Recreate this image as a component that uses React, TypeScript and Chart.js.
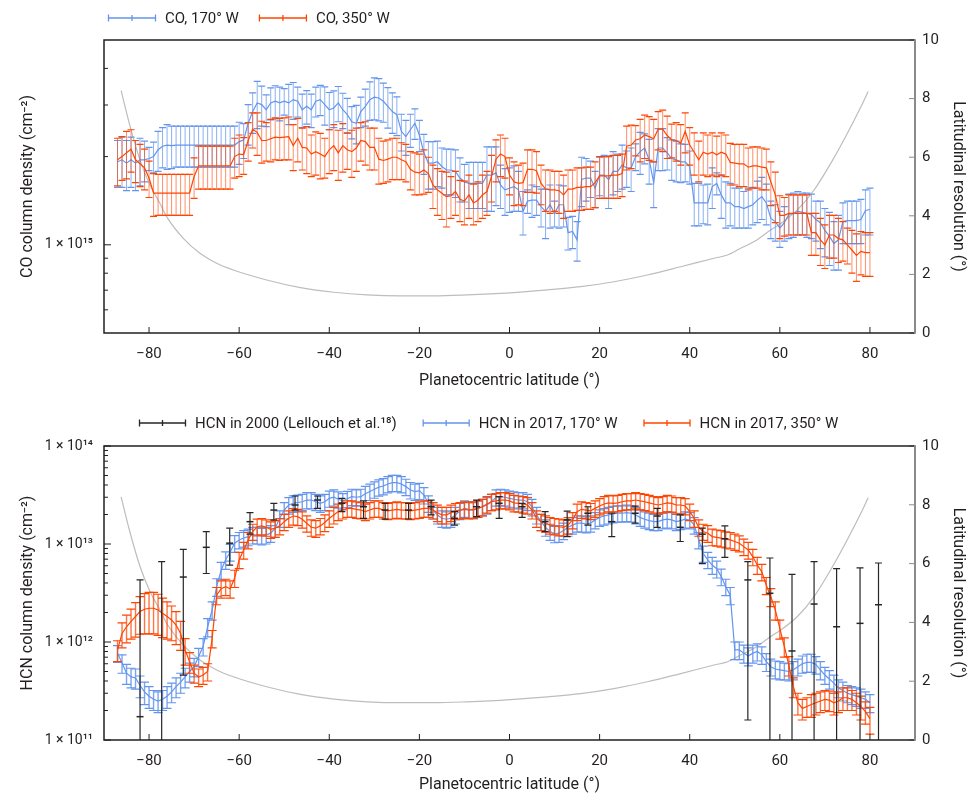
import React, { useEffect, useRef } from 'react';
import { Chart, registerables } from 'chart.js';

Chart.register(...registerables);

const FONT = 'Roboto, "DejaVu Sans", Arial, sans-serif';
const INK = '#231f20';
const BLUE = '#6495ed';
const ORANGE = '#ff4500';
const GREY = '#bdbdbd';
const BLACK = '#262626';
const AXIS_GREY = '#8a8a8a';

// ---------- shared latitude grid (degrees) ----------
const latitudes = [
  -87, -86, -85, -84, -83, -82, -81, -80, -79, -78,
  -77, -76, -75, -74, -73, -72, -71, -70, -69, -68,
  -67, -66, -65, -64, -63, -62, -61, -60, -59, -58,
  -57, -56, -55, -54, -53, -52, -51, -50, -49, -48,
  -47, -46, -45, -44, -43, -42, -41, -40, -39, -38,
  -37, -36, -35, -34, -33, -32, -31, -30, -29, -28,
  -27, -26, -25, -24, -23, -22, -21, -20, -19, -18,
  -17, -16, -15, -14, -13, -12, -11, -10, -9, -8,
  -7, -6, -5, -4, -3, -2, -1, 0, 1, 2,
  3, 4, 5, 6, 7, 8, 9, 10, 11, 12,
  13, 14, 15, 16, 17, 18, 19, 20, 21, 22,
  23, 24, 25, 26, 27, 28, 29, 30, 31, 32,
  33, 34, 35, 36, 37, 38, 39, 40, 41, 42,
  43, 44, 45, 46, 47, 48, 49, 50, 51, 52,
  53, 54, 55, 56, 57, 58, 59, 60, 61, 62,
  63, 64, 65, 66, 67, 68, 69, 70, 71, 72,
  73, 74, 75, 76, 77, 78, 79, 80,
];

// ---------- CO column density, units of 1e15 cm^-2 ----------
const co170W = [
  1.92, 1.95, 1.90, 1.95, 1.90, 1.95, 1.95, 1.97, 2.00, 2.11,
  2.17, 2.19, 2.18, 2.19, 2.19, 2.19, 2.19, 2.19, 2.19, 2.19,
  2.19, 2.19, 2.19, 2.19, 2.19, 2.19, 2.19, 2.25, 2.28, 2.60,
  2.85, 3.05, 3.01, 2.89, 3.05, 3.09, 3.05, 3.09, 3.05, 3.13,
  3.09, 2.89, 2.97, 2.89, 3.09, 3.13, 3.01, 2.89, 2.93, 3.05,
  2.89, 2.78, 2.63, 2.60, 2.85, 2.97, 3.13, 3.19, 3.17, 3.09,
  2.97, 2.85, 2.78, 2.44, 2.34, 2.47, 2.60, 2.37, 2.06, 1.90,
  1.90, 1.92, 1.85, 1.80, 1.80, 1.78, 1.69, 1.64, 1.62, 1.62,
  1.62, 1.62, 1.73, 1.73, 1.76, 1.60, 1.54, 1.56, 1.58, 1.54,
  1.30, 1.41, 1.42, 1.42, 1.35, 1.30, 1.37, 1.28, 1.37, 1.37,
  1.10, 1.11, 1.04, 1.67, 1.69, 1.69, 1.56, 1.73, 1.73, 1.67,
  1.78, 1.78, 1.87, 1.83, 1.83, 2.00, 2.08, 2.14, 1.95, 1.63,
  2.14, 2.14, 2.06, 1.97, 1.95, 1.92, 1.92, 1.85, 1.39, 1.39,
  1.39, 1.39, 1.58, 1.62, 1.48, 1.39, 1.39, 1.35, 1.35, 1.33,
  1.35, 1.37, 1.42, 1.46, 1.39, 1.23, 1.20, 1.14, 1.19, 1.27,
  1.28, 1.30, 1.29, 1.28, 1.27, 1.22, 1.19, 1.12, 1.07, 1.01,
  1.04, 1.20, 1.21, 1.21, 1.21, 1.22, 1.31, 1.32,
];
const co170WErr = [
  0.35, 0.38, 0.37, 0.38, 0.37, 0.36, 0.31, 0.18, 0.24, 0.33,
  0.34, 0.38, 0.36, 0.35, 0.35, 0.35, 0.35, 0.35, 0.35, 0.35,
  0.35, 0.35, 0.35, 0.35, 0.35, 0.35, 0.35, 0.37, 0.31, 0.41,
  0.45, 0.56, 0.47, 0.36, 0.38, 0.40, 0.40, 0.32, 0.48, 0.45,
  0.36, 0.38, 0.39, 0.38, 0.36, 0.37, 0.45, 0.42, 0.42, 0.42,
  0.40, 0.38, 0.33, 0.39, 0.34, 0.43, 0.47, 0.52, 0.52, 0.47,
  0.47, 0.45, 0.42, 0.35, 0.32, 0.32, 0.31, 0.29, 0.32, 0.35,
  0.35, 0.34, 0.29, 0.32, 0.32, 0.33, 0.29, 0.24, 0.29, 0.29,
  0.29, 0.29, 0.43, 0.43, 0.40, 0.27, 0.28, 0.27, 0.28, 0.24,
  0.22, 0.13, 0.18, 0.16, 0.20, 0.25, 0.23, 0.13, 0.23, 0.22,
  0.14, 0.14, 0.16, 0.32, 0.28, 0.24, 0.22, 0.26, 0.29, 0.34,
  0.30, 0.26, 0.32, 0.26, 0.31, 0.21, 0.34, 0.25, 0.34, 0.29,
  0.35, 0.35, 0.26, 0.31, 0.31, 0.29, 0.28, 0.24, 0.23, 0.23,
  0.21, 0.22, 0.25, 0.14, 0.25, 0.25, 0.23, 0.21, 0.21, 0.19,
  0.21, 0.20, 0.23, 0.24, 0.22, 0.18, 0.17, 0.16, 0.16, 0.22,
  0.22, 0.22, 0.21, 0.22, 0.22, 0.19, 0.22, 0.21, 0.22, 0.19,
  0.22, 0.19, 0.20, 0.20, 0.20, 0.21, 0.23, 0.24,
];
const co350W = [
  1.95, 2.00, 2.06, 2.12, 1.95, 1.89, 1.83, 1.69, 1.50, 1.50,
  1.50, 1.50, 1.50, 1.50, 1.50, 1.50, 1.50, 1.71, 1.86, 1.86,
  1.86, 1.86, 1.86, 1.86, 1.86, 1.86, 2.00, 2.04, 2.03, 2.27,
  2.48, 2.42, 2.27, 2.27, 2.30, 2.33, 2.32, 2.33, 2.34, 2.18,
  2.31, 2.15, 2.14, 2.04, 2.08, 2.04, 2.00, 2.11, 2.18, 2.06,
  2.18, 2.11, 2.08, 2.14, 2.27, 2.25, 2.15, 2.15, 1.96, 1.94,
  1.96, 1.99, 1.99, 1.95, 1.92, 1.81, 1.77, 1.76, 1.80, 1.75,
  1.60, 1.54, 1.50, 1.46, 1.47, 1.52, 1.43, 1.41, 1.48, 1.39,
  1.42, 1.48, 1.52, 1.71, 1.96, 2.04, 2.00, 1.73, 1.64, 1.62,
  1.63, 1.81, 1.81, 1.79, 1.62, 1.55, 1.54, 1.54, 1.53, 1.48,
  1.55, 1.55, 1.57, 1.57, 1.58, 1.58, 1.63, 1.72, 1.72, 1.72,
  1.73, 1.73, 1.75, 2.17, 2.19, 2.28, 2.30, 2.37, 2.34, 2.30,
  2.48, 2.48, 2.36, 2.28, 2.27, 2.22, 2.44, 2.19, 2.07, 1.95,
  2.07, 2.04, 2.07, 2.03, 2.07, 2.04, 1.91, 1.90, 1.89, 1.89,
  1.84, 1.86, 1.86, 1.84, 1.83, 1.64, 1.48, 1.26, 1.26, 1.28,
  1.28, 1.28, 1.28, 1.28, 1.10, 1.10, 1.04, 1.00, 1.08, 1.08,
  1.05, 1.04, 1.00, 0.96, 0.92, 0.95, 0.94, 0.94,
];
const co350WErr = [
  0.36, 0.34, 0.38, 0.35, 0.32, 0.31, 0.29, 0.24, 0.25, 0.24,
  0.24, 0.24, 0.24, 0.24, 0.24, 0.24, 0.24, 0.27, 0.31, 0.31,
  0.31, 0.31, 0.31, 0.31, 0.31, 0.31, 0.31, 0.33, 0.29, 0.34,
  0.34, 0.40, 0.37, 0.34, 0.38, 0.38, 0.38, 0.38, 0.39, 0.39,
  0.39, 0.35, 0.39, 0.33, 0.35, 0.36, 0.31, 0.36, 0.39, 0.40,
  0.41, 0.30, 0.38, 0.36, 0.34, 0.38, 0.35, 0.35, 0.35, 0.32,
  0.32, 0.32, 0.32, 0.28, 0.28, 0.27, 0.29, 0.28, 0.31, 0.24,
  0.27, 0.28, 0.28, 0.31, 0.24, 0.26, 0.23, 0.24, 0.25, 0.22,
  0.22, 0.25, 0.26, 0.31, 0.32, 0.33, 0.31, 0.25, 0.28, 0.25,
  0.27, 0.30, 0.30, 0.29, 0.25, 0.25, 0.26, 0.24, 0.25, 0.25,
  0.25, 0.25, 0.26, 0.26, 0.26, 0.26, 0.29, 0.28, 0.28, 0.28,
  0.29, 0.29, 0.29, 0.37, 0.37, 0.27, 0.38, 0.40, 0.40, 0.38,
  0.37, 0.40, 0.39, 0.30, 0.34, 0.35, 0.38, 0.32, 0.34, 0.31,
  0.34, 0.33, 0.34, 0.32, 0.34, 0.33, 0.31, 0.30, 0.31, 0.31,
  0.30, 0.30, 0.30, 0.30, 0.29, 0.28, 0.29, 0.21, 0.19, 0.20,
  0.20, 0.20, 0.20, 0.20, 0.18, 0.18, 0.19, 0.17, 0.18, 0.18,
  0.18, 0.16, 0.14, 0.16, 0.17, 0.16, 0.16, 0.16,
];

// ---------- HCN column density, units of 1e12 cm^-2 ----------
const hcn170W = [
  0.77, 0.61, 0.48, 0.44, 0.43, 0.36, 0.31, 0.28, 0.26, 0.25,
  0.26, 0.28, 0.31, 0.35, 0.39, 0.44, 0.50, 0.56, 0.71, 0.90,
  1.43, 2.12, 3.67, 5.4, 6.9, 8.3, 10.2, 11.0, 11.5, 11.9,
  12.4, 12.4, 12.1, 12.4, 12.9, 14.5, 18.3, 22.2, 25.0, 26.0,
  26.5, 27.0, 28.1, 28.1, 27.0, 26.0, 27.0, 29.2, 30.0, 28.6,
  27.5, 29.0, 30.4, 30.0, 30.4, 32.5, 34.3, 36.2, 38.0, 39.1,
  41.0, 42.2, 42.2, 41.0, 38.5, 35.6, 34.3, 35.0, 31.6, 26.0,
  22.2, 19.8, 18.3, 17.9, 18.3, 19.8, 21.8, 23.1, 22.6, 22.2,
  23.1, 24.0, 25.0, 27.0, 30.0, 30.4, 30.0, 29.2, 28.6, 28.1,
  28.1, 27.0, 24.0, 19.8, 16.9, 14.8, 13.4, 12.7, 12.9, 13.7,
  14.8, 15.6, 16.3, 16.3, 16.0, 16.3, 17.6, 18.7, 19.3, 19.8,
  20.3, 20.6, 20.6, 20.9, 20.6, 19.8, 18.7, 17.9, 17.3, 16.9,
  16.9, 17.6, 17.9, 17.6, 16.9, 17.3, 17.9, 17.6, 15.6, 11.0,
  8.0, 6.9, 6.1, 5.6, 4.65, 3.67, 3.0, 0.83, 0.83, 0.77,
  0.72, 0.77, 0.80, 0.74, 0.63, 0.56, 0.53, 0.52, 0.51, 0.50,
  0.52, 0.56, 0.60, 0.62, 0.62, 0.59, 0.52, 0.46, 0.42, 0.38,
  0.34, 0.32, 0.30, 0.29, 0.28, 0.27, 0.26, 0.24,
];
const hcn170WErr = [
  0.15, 0.13, 0.11, 0.10, 0.10, 0.09, 0.08, 0.07, 0.06, 0.06,
  0.06, 0.07, 0.07, 0.08, 0.09, 0.10, 0.11, 0.12, 0.15, 0.18,
  0.30, 0.45, 0.75, 1.1, 1.4, 1.6, 2.0, 2.1, 2.2, 2.3,
  2.4, 2.4, 2.3, 2.4, 2.5, 2.8, 3.5, 4.2, 4.8, 5.0,
  5.0, 5.1, 5.3, 5.3, 5.1, 5.0, 5.1, 5.5, 5.7, 5.4,
  5.2, 5.5, 5.8, 5.7, 5.8, 6.2, 6.5, 6.9, 7.2, 7.4,
  7.8, 8.0, 8.0, 7.8, 7.3, 6.8, 6.5, 6.6, 6.0, 5.0,
  4.2, 3.8, 3.5, 3.4, 3.5, 3.8, 4.1, 4.4, 4.3, 4.2,
  4.4, 4.6, 4.8, 5.1, 5.7, 5.8, 5.7, 5.5, 5.4, 5.3,
  5.3, 5.1, 4.6, 3.8, 3.2, 2.8, 2.5, 2.4, 2.5, 2.6,
  2.8, 3.0, 3.1, 3.1, 3.0, 3.1, 3.3, 3.6, 3.7, 3.8,
  3.9, 3.9, 3.9, 4.0, 3.9, 3.8, 3.6, 3.4, 3.3, 3.2,
  3.2, 3.3, 3.4, 3.3, 3.2, 3.3, 3.4, 3.3, 3.0, 2.1,
  1.5, 1.3, 1.2, 1.1, 0.9, 0.7, 0.6, 0.17, 0.17, 0.16,
  0.15, 0.16, 0.16, 0.15, 0.13, 0.11, 0.11, 0.11, 0.10, 0.10,
  0.11, 0.11, 0.12, 0.13, 0.13, 0.12, 0.11, 0.09, 0.09, 0.08,
  0.07, 0.07, 0.06, 0.06, 0.06, 0.06, 0.05, 0.05,
];
const hcn350W = [
  0.83, 1.22, 1.43, 1.62, 1.82, 2.05, 2.16, 2.21, 2.21, 2.12,
  1.96, 1.82, 1.68, 1.49, 1.22, 0.83, 0.63, 0.48, 0.44, 0.46,
  0.50, 1.09, 3.0, 3.5, 3.67, 3.5, 4.5, 6.9, 8.7, 11.0,
  13.4, 15.0, 15.3, 14.8, 14.1, 14.5, 15.3, 16.9, 18.3, 19.3,
  19.0, 17.9, 16.3, 14.8, 14.5, 15.3, 16.6, 18.3, 19.8, 21.4,
  22.2, 23.1, 23.1, 22.6, 22.2, 21.4, 22.2, 23.1, 23.1, 22.2,
  21.8, 22.2, 22.6, 22.2, 22.2, 21.8, 22.2, 22.6, 23.1, 23.1,
  22.2, 20.9, 19.8, 19.8, 20.9, 21.8, 22.2, 22.6, 22.2, 22.6,
  23.1, 24.0, 25.6, 27.0, 27.5, 28.1, 28.1, 27.5, 26.3, 26.0,
  25.6, 25.0, 22.2, 18.3, 16.9, 16.3, 15.6, 15.3, 15.0, 14.8,
  15.6, 17.6, 21.4, 22.6, 22.2, 21.8, 23.1, 24.4, 25.6, 26.3,
  26.0, 26.3, 27.0, 27.5, 27.5, 28.1, 27.5, 27.0, 26.3, 25.6,
  25.0, 25.6, 26.3, 26.0, 25.0, 25.0, 24.4, 21.4, 18.3, 14.8,
  13.4, 12.9, 11.9, 11.7, 11.5, 11.2, 11.0, 10.6, 10.2, 9.4,
  8.7, 7.4, 6.1, 5.2, 3.8, 2.9, 2.12, 1.37, 0.90, 0.58,
  0.35, 0.24, 0.21, 0.22, 0.23, 0.24, 0.25, 0.26, 0.255, 0.24,
  0.25, 0.27, 0.27, 0.26, 0.24, 0.22, 0.195, 0.165,
];
const hcn350WErr = [
  0.2, 0.35, 0.45, 0.55, 0.7, 0.85, 0.95, 1.0, 1.0, 0.95,
  0.85, 0.75, 0.65, 0.55, 0.4, 0.25, 0.15, 0.1, 0.09, 0.09,
  0.1, 0.22, 0.6, 0.7, 0.7, 0.7, 0.9, 1.3, 1.7, 2.1,
  2.5, 2.9, 2.9, 2.8, 2.7, 2.8, 2.9, 3.2, 3.5, 3.7,
  3.6, 3.4, 3.1, 2.8, 2.8, 2.9, 3.2, 3.5, 3.8, 4.1,
  4.2, 4.4, 4.4, 4.3, 4.2, 4.1, 4.2, 4.4, 4.4, 4.2,
  4.1, 4.2, 4.3, 4.2, 4.2, 4.1, 4.2, 4.3, 4.4, 4.4,
  4.2, 4.0, 3.8, 3.8, 4.0, 4.1, 4.2, 4.3, 4.2, 4.3,
  4.4, 4.6, 4.9, 5.1, 5.2, 5.3, 5.3, 5.2, 5.0, 4.9,
  4.9, 4.8, 4.2, 3.5, 3.2, 3.1, 3.0, 2.9, 2.9, 2.8,
  3.0, 3.3, 4.1, 4.3, 4.2, 4.1, 4.4, 4.6, 4.9, 5.0,
  4.9, 5.0, 5.1, 5.2, 5.2, 5.3, 5.2, 5.1, 5.0, 4.9,
  4.8, 4.9, 5.0, 4.9, 4.8, 4.8, 4.6, 4.1, 3.5, 2.8,
  2.5, 2.5, 2.3, 2.2, 2.2, 2.1, 2.1, 2.0, 1.9, 1.8,
  1.7, 1.4, 1.2, 1.0, 0.75, 0.6, 0.45, 0.3, 0.2, 0.13,
  0.08, 0.06, 0.05, 0.05, 0.06, 0.06, 0.06, 0.06, 0.06, 0.06,
  0.06, 0.07, 0.07, 0.06, 0.06, 0.06, 0.05, 0.05,
];

// HCN in 2000 (Lellouch et al.), units of 1e12 cm^-2; lower bound 0 = below the axis
const hcn2000Lat = [
  -82.0, -77.2, -72.4, -67.3, -62.1, -57.6, -52.3, -47.6, -42.6, -37.2,
  -32.4, -27.6, -22.4, -17.4, -12.2, -7.3, -2.3, 2.8, 7.9, 12.8,
  17.4, 22.7, 27.9, 32.8, 37.9, 42.8, 47.8, 52.9, 57.8, 62.7,
  67.6, 72.6, 77.8, 81.9,
];
const hcn2000 = [
  0.173, 0.08, 4.6, 9.25, 10.2, 16.9, 22.2, 25.0, 28.1, 26.0,
  24.0, 22.2, 22.2, 24.0, 18.3, 24.0, 26.0, 24.0, 16.9, 17.6,
  20.6, 16.9, 20.6, 19.3, 14.8, 12.6, 11.3, 4.3, 3.14, 0.81,
  2.44, 1.43, 1.55, 2.4,
];
const hcn2000Upper = [
  4.3, 6.6, 8.8, 13.4, 14.5, 20.9, 26.0, 30.9, 30.9, 29.2,
  27.5, 26.0, 26.0, 28.1, 21.4, 28.1, 30.4, 26.0, 21.4, 21.6,
  24.0, 20.6, 24.4, 23.1, 19.8, 14.5, 15.3, 6.6, 7.2, 4.9,
  6.6, 5.6, 5.7, 6.4,
];
const hcn2000Lower = [
  0, 0, 0.46, 5.0, 6.1, 12.6, 17.6, 22.2, 23.1, 21.4,
  18.3, 17.9, 18.0, 19.8, 15.6, 19.0, 18.3, 18.7, 13.4, 11.9,
  15.6, 11.9, 16.3, 14.8, 10.6, 6.3, 7.3, 0.16, 0, 0,
  0, 0, 0, 0,
];

// ---------- latitudinal resolution (degrees) ----------
const resolutionLat = [
  -86.2, -84.4, -82.0, -79.8, -77.6, -76.1, -72.4, -68.7, -65.0, -61.3,
  -53.9, -46.4, -39.0, -31.6, -24.2, -16.8, -9.4, -2.0, 1.0, 8.4,
  15.8, 23.2, 30.6, 38.0, 45.4, 48.4, 51.3, 54.3, 58.0, 60.2,
  63.9, 67.6, 71.3, 75.0, 78.0, 79.6,
];
const resolutionDeg = [
  8.27, 7.16, 5.9, 5.05, 4.43, 3.97, 3.23, 2.72, 2.38, 2.15,
  1.81, 1.55, 1.39, 1.30, 1.27, 1.27, 1.30, 1.35, 1.38, 1.47,
  1.58, 1.75, 1.98, 2.26, 2.55, 2.66, 2.89, 3.12, 3.52, 3.74,
  4.20, 4.88, 5.79, 6.82, 7.72, 8.24,
];

// ---------- ticks ----------
const latTicks = [-80, -60, -40, -20, 0, 20, 40, 60, 80];
const resolutionTicks = [0, 2, 4, 6, 8, 10];
const coLabelTicks = [1e15];
const coMinorTicks = [6e14, 7e14, 8e14, 9e14, 2e15, 3e15, 4e15];
const hcnLabelTicks = [1e11, 1e12, 1e13, 1e14];
const hcnMinorTicks = [
  2e11, 3e11, 4e11, 5e11, 6e11, 7e11, 8e11, 9e11,
  2e12, 3e12, 4e12, 5e12, 6e12, 7e12, 8e12, 9e12,
  2e13, 3e13, 4e13, 5e13, 6e13, 7e13, 8e13, 9e13,
];

const CO_UNIT = 1e15;
const HCN_UNIT = 1e12;

const SUP: Record<string, string> = {
  '0': '⁰', '1': '¹', '2': '²', '3': '³', '4': '⁴', '5': '⁵', '6': '⁶', '7': '⁷', '8': '⁸', '9': '⁹', '-': '⁻',
};
const powLabel = (v: number) => {
  const e = Math.round(Math.log10(v));
  return '1 × 10' + String(e).split('').map((c) => SUP[c]).join('');
};
const latLabel = (v: number) => (v < 0 ? '\u2212' + Math.abs(v) : String(v));

const toPoints = (xs: number[], ys: number[], unit: number) => xs.map((x, i) => ({ x, y: ys[i] * unit }));

// ---------- plugins ----------
const errorBarPlugin = {
  id: 'errorBars',
  afterDatasetDraw(chart: any, args: any) {
    const ds = chart.data.datasets[args.index];
    if (!ds.errHi) return;
    const { ctx, chartArea: a } = chart;
    const xs = chart.scales.x;
    const ys = chart.scales[ds.yAxisID];
    const half = ds.capWidth / 2;
    ctx.save();
    ctx.beginPath();
    ctx.rect(a.left, a.top, a.right - a.left, a.bottom - a.top);
    ctx.clip();
    ds.data.forEach((p: any, i: number) => {
      const x = xs.getPixelForValue(p.x);
      const yh = ys.getPixelForValue(ds.errHi[i]);
      const lo = ds.errLo[i];
      const yl = lo > 0 ? ys.getPixelForValue(lo) : a.bottom + 20;
      ctx.globalAlpha = ds.stemAlpha;
      ctx.strokeStyle = ds.barColor;
      ctx.lineWidth = ds.stemWidth;
      ctx.beginPath();
      ctx.moveTo(x, yh);
      ctx.lineTo(x, yl);
      ctx.stroke();
      ctx.globalAlpha = 1;
      ctx.lineWidth = 1.2;
      ctx.beginPath();
      ctx.moveTo(x - half, yh);
      ctx.lineTo(x + half, yh);
      ctx.moveTo(x - half, yl);
      ctx.lineTo(x + half, yl);
      ctx.stroke();
    });
    ctx.restore();
  },
};

function framePlugin(cfg: { major: number[]; minor: number[] }) {
  return {
    id: 'frame',
    afterDatasetsDraw(chart: any) {
      const { ctx, chartArea: a, scales } = chart;
      const seg = (x1: number, y1: number, x2: number, y2: number) => {
        ctx.beginPath();
        ctx.moveTo(x1, y1);
        ctx.lineTo(x2, y2);
        ctx.stroke();
      };
      ctx.save();
      ctx.strokeStyle = INK;
      ctx.lineWidth = 1;
      latTicks.forEach((v) => {
        const x = scales.x.getPixelForValue(v);
        seg(x, a.bottom, x, a.bottom - 6);
      });
      cfg.major.forEach((v) => {
        const y = scales.y.getPixelForValue(v);
        seg(a.left, y, a.left + 7, y);
      });
      cfg.minor.forEach((v) => {
        const y = scales.y.getPixelForValue(v);
        seg(a.left, y, a.left + 4, y);
      });
      ctx.strokeStyle = AXIS_GREY;
      resolutionTicks.forEach((v) => {
        const y = scales.y2.getPixelForValue(v);
        seg(a.right, y, a.right - 6, y);
      });
      ctx.strokeStyle = INK;
      ctx.lineWidth = 1.5;
      ctx.beginPath();
      ctx.moveTo(a.right, a.top);
      ctx.lineTo(a.left, a.top);
      ctx.lineTo(a.left, a.bottom);
      ctx.lineTo(a.right, a.bottom);
      ctx.stroke();
      ctx.strokeStyle = AXIS_GREY;
      ctx.lineWidth = 2;
      seg(a.right, a.top - 0.75, a.right, a.bottom + 0.75);
      ctx.restore();
    },
  };
}

function legendPlugin(cfg: { x: number; y: number; iconW: number; gap: number; itemGap: number; items: { label: string; color: string }[] }) {
  return {
    id: 'errLegend',
    afterDraw(chart: any) {
      const ctx = chart.ctx;
      ctx.save();
      ctx.font = `15px ${FONT}`;
      ctx.textBaseline = 'middle';
      ctx.textAlign = 'left';
      let x = cfg.x;
      const y = cfg.y;
      cfg.items.forEach((it) => {
        ctx.strokeStyle = it.color;
        ctx.lineWidth = 1.3;
        ctx.beginPath();
        ctx.moveTo(x, y);
        ctx.lineTo(x + cfg.iconW, y);
        ctx.moveTo(x + 0.5, y - 3.5);
        ctx.lineTo(x + 0.5, y + 3.5);
        ctx.moveTo(x + cfg.iconW - 0.5, y - 3.5);
        ctx.lineTo(x + cfg.iconW - 0.5, y + 3.5);
        ctx.moveTo(x + cfg.iconW / 2, y - 3);
        ctx.lineTo(x + cfg.iconW / 2, y + 3);
        ctx.stroke();
        ctx.fillStyle = INK;
        ctx.fillText(it.label, x + cfg.iconW + cfg.gap, y + 1);
        x += cfg.iconW + cfg.gap + ctx.measureText(it.label).width + cfg.itemGap;
      });
      ctx.restore();
    },
  };
}

// ---------- chart builders ----------
function errorSeries(label: string, color: string, values: number[], errs: number[], unit: number, cap: number, alpha: number, stem: number) {
  return {
    label,
    data: toPoints(latitudes, values, unit),
    errHi: values.map((v, i) => (v + errs[i]) * unit),
    errLo: values.map((v, i) => (v - errs[i]) * unit),
    barColor: color,
    capWidth: cap,
    stemAlpha: alpha,
    stemWidth: stem,
    borderColor: color,
    backgroundColor: color,
    borderWidth: 1.2,
    pointRadius: 0,
    tension: 0,
    yAxisID: 'y',
  };
}

function resolutionSeries() {
  return {
    label: 'Latitudinal resolution',
    data: toPoints(resolutionLat, resolutionDeg, 1),
    borderColor: GREY,
    borderWidth: 1.2,
    pointRadius: 0,
    tension: 0.4,
    cubicInterpolationMode: 'monotone',
    yAxisID: 'y2',
  };
}

function scalesFor(opts: {
  yMin: number; yMax: number; yLabels: number[]; yTitle: string; xHeight: number; xTitlePad: number;
}) {
  const tickFont = { family: FONT, size: 15 };
  const titleFont = { family: FONT, size: 16 };
  return {
    x: {
      type: 'linear',
      min: -90,
      max: 90,
      grid: { display: false, drawTicks: false },
      border: { display: false },
      afterBuildTicks: (s: any) => { s.ticks = latTicks.map((value) => ({ value })); },
      ticks: { color: INK, font: tickFont, padding: 12, maxRotation: 0, autoSkip: false, callback: (v: any) => latLabel(Number(v)) },
      title: { display: true, text: 'Planetocentric latitude (°)', color: INK, font: titleFont, padding: { top: 0, bottom: opts.xTitlePad } },
      afterFit: (s: any) => { s.height = opts.xHeight; },
    },
    y: {
      type: 'logarithmic',
      position: 'left',
      min: opts.yMin,
      max: opts.yMax,
      grid: { display: false, drawTicks: false },
      border: { display: false },
      afterBuildTicks: (s: any) => { s.ticks = opts.yLabels.map((value) => ({ value })); },
      ticks: { color: INK, font: { family: FONT, size: 14 }, padding: 11, autoSkip: false, callback: (v: any) => powLabel(Number(v)) },
      title: { display: true, text: opts.yTitle, color: INK, font: titleFont, padding: { top: 18, bottom: 0 } },
      afterFit: (s: any) => { s.width = 104; },
    },
    y2: {
      type: 'linear',
      position: 'right',
      min: 0,
      max: 10,
      grid: { display: false, drawTicks: false },
      border: { display: false },
      afterBuildTicks: (s: any) => { s.ticks = resolutionTicks.map((value) => ({ value })); },
      ticks: { color: INK, font: tickFont, padding: 7, autoSkip: false },
      title: { display: true, text: 'Latitudinal resolution (°)', color: INK, font: titleFont, padding: { top: 2, bottom: 0 } },
      afterFit: (s: any) => { s.width = 55; },
    },
  };
}

function buildCoConfig(): any {
  return {
    type: 'line',
    data: {
      datasets: [
        errorSeries('CO, 350° W', ORANGE, co350W, co350WErr, CO_UNIT, 7, 0.6, 1),
        errorSeries('CO, 170° W', BLUE, co170W, co170WErr, CO_UNIT, 7, 0.75, 1),
        resolutionSeries(),
      ],
    },
    options: {
      responsive: false,
      animation: false,
      events: [],
      layout: { padding: { top: 40, left: 0, right: 0, bottom: 0 } },
      plugins: { legend: { display: false }, tooltip: { enabled: false } },
      scales: scalesFor({ yMin: 5e14, yMax: 5e15, yLabels: coLabelTicks, yTitle: 'CO column density (cm⁻²)', xHeight: 67, xTitlePad: 9 }),
    },
    plugins: [
      errorBarPlugin,
      framePlugin({ major: coLabelTicks, minor: coMinorTicks }),
      legendPlugin({
        x: 108, y: 18, iconW: 48, gap: 9, itemGap: 20,
        items: [
          { label: 'CO, 170° W', color: BLUE },
          { label: 'CO, 350° W', color: ORANGE },
        ],
      }),
    ],
  };
}

function buildHcnConfig(): any {
  const black = {
    label: 'HCN in 2000 (Lellouch et al.¹⁸)',
    data: toPoints(hcn2000Lat, hcn2000, HCN_UNIT),
    errHi: hcn2000Upper.map((v) => v * HCN_UNIT),
    errLo: hcn2000Lower.map((v) => v * HCN_UNIT),
    barColor: BLACK,
    capWidth: 7,
    stemAlpha: 1,
    stemWidth: 1.2,
    showLine: false,
    pointStyle: 'line',
    pointRadius: 3.5,
    borderColor: BLACK,
    backgroundColor: BLACK,
    borderWidth: 1.5,
    yAxisID: 'y',
  };
  return {
    type: 'line',
    data: {
      datasets: [
        black,
        errorSeries('HCN in 2017, 350° W', ORANGE, hcn350W, hcn350WErr, HCN_UNIT, 9, 0.75, 1.4),
        errorSeries('HCN in 2017, 170° W', BLUE, hcn170W, hcn170WErr, HCN_UNIT, 9, 0.85, 1.4),
        resolutionSeries(),
      ],
    },
    options: {
      responsive: false,
      animation: false,
      events: [],
      layout: { padding: { top: 46, left: 0, right: 0, bottom: 0 } },
      plugins: { legend: { display: false }, tooltip: { enabled: false } },
      scales: scalesFor({ yMin: 1e11, yMax: 1e14, yLabels: hcnLabelTicks, yTitle: 'HCN column density (cm⁻²)', xHeight: 55, xTitlePad: 0 }),
    },
    plugins: [
      errorBarPlugin,
      framePlugin({ major: hcnLabelTicks, minor: hcnMinorTicks }),
      legendPlugin({
        x: 139, y: 23, iconW: 47, gap: 9, itemGap: 26,
        items: [
          { label: 'HCN in 2000 (Lellouch et al.¹⁸)', color: BLACK },
          { label: 'HCN in 2017, 170° W', color: BLUE },
          { label: 'HCN in 2017, 350° W', color: ORANGE },
        ],
      }),
    ],
  };
}

function Panel({ build, height }: { build: () => any; height: number }) {
  const ref = useRef<HTMLCanvasElement>(null);
  useEffect(() => {
    const chart = new Chart(ref.current as HTMLCanvasElement, build());
    return () => chart.destroy();
  }, [build]);
  return <canvas ref={ref} width={970} height={height} style={{ display: 'block', width: 970, height }} />;
}

export default function App() {
  return (
    <div style={{ position: 'fixed', left: 0, top: 0, width: 970, height: 795, background: '#ffffff', overflow: 'hidden' }}>
      <Panel build={buildCoConfig} height={400} />
      <Panel build={buildHcnConfig} height={395} />
    </div>
  );
}
